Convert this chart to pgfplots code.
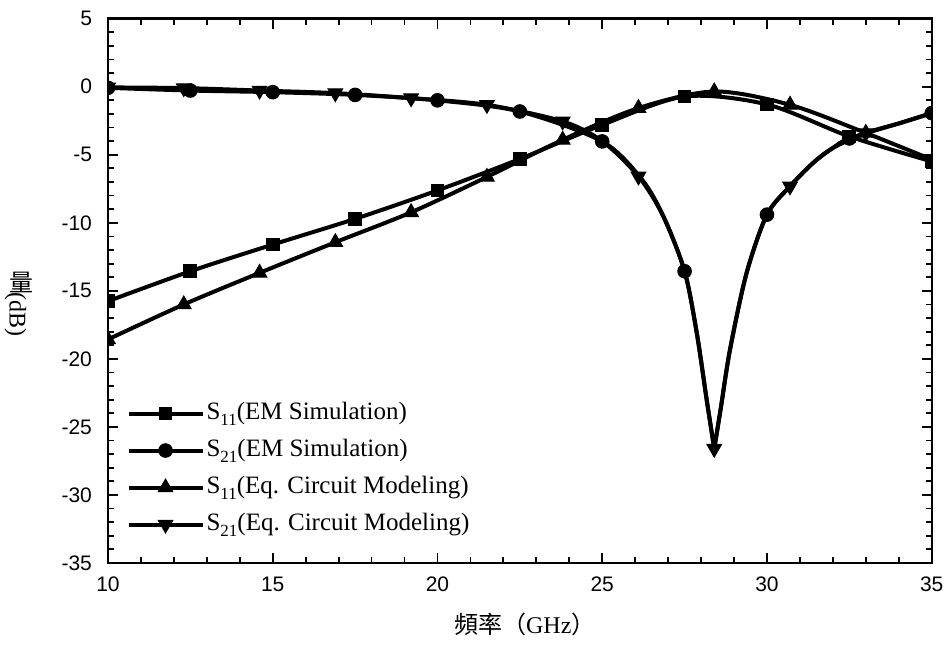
\documentclass[border=0pt]{standalone}
\usepackage{fontspec}
\setmainfont{Liberation Serif}
\newfontfamily\arial{Liberation Sans}
\newfontfamily\cjk{Noto Sans CJK TC}
\usepackage{pgfplots}
\usepackage{pgfplotstable}
\pgfplotsset{compat=1.18}
\newcommand{\sub}[1]{\raisebox{-0.55ex}{\fontsize{8.5}{9}\selectfont #1}}

% S11 EM simulation (squares)
\pgfplotstableread{
x y
10 -15.76
12.5 -13.56
15 -11.6
17.5 -9.71
20 -7.62
22.5 -5.31
25 -2.8
27.5 -0.72
30 -1.3
32.5 -3.65
35 -5.49
}\sAem

% S11 equivalent circuit (up triangles)
\pgfplotstableread{
x y
10 -18.57
12.3 -16.0
14.6 -13.68
16.9 -11.43
19.2 -9.23
21.5 -6.63
23.8 -3.9
26.1 -1.57
28.4 -0.35
30.7 -1.33
33.0 -3.4
35 -5.35
}\sAeq

% S21 EM simulation (circles); ym = marker rows
\pgfplotstableread{
x y ym
10 -0.08 -0.08
12.5 -0.28 -0.28
15 -0.4 -0.4
17.5 -0.6 -0.6
20 -1.0 -1.0
22.5 -1.82 -1.82
25 -4.02 -4.02
26.2 -6.8 nan
26.85 -9.5 nan
27.5 -13.56 -13.56
27.87 -18.1 nan
28.17 -23.0 nan
28.4 -26.6 nan
28.6 -23.6 nan
28.88 -19.3 nan
29.38 -13.7 nan
30 -9.4 -9.4
30.7 -7.32 nan
31.4 -5.6 nan
32.0 -4.5 nan
32.5 -3.8 -3.8
34.04 -2.67 nan
35 -1.94 -1.94
}\sBem

% S21 equivalent circuit (down triangles)
\pgfplotstableread{
x y ym
10 -0.05 -0.05
12.3 -0.1 -0.1
14.6 -0.28 -0.28
16.9 -0.47 -0.47
19.2 -0.84 -0.84
21.5 -1.33 -1.33
23.8 -2.55 -2.55
25 -4.0 nan
26.1 -6.59 -6.59
26.85 -9.5 nan
27.5 -13.56 nan
27.87 -18.1 nan
28.17 -23.0 nan
28.4 -26.6 -26.6
28.6 -23.6 nan
28.88 -19.3 nan
29.38 -13.7 nan
30 -9.4 nan
30.7 -7.32 -7.32
31.4 -5.6 nan
32.0 -4.5 nan
33.0 -3.4 -3.4
34.04 -2.67 nan
35 -1.94 nan
}\sBeq

\begin{document}
\begin{tikzpicture}
\useasboundingbox (-54pt,-42.5pt) rectangle (420pt,281.5pt);
\begin{axis}[
  at={(0pt,0pt)}, anchor=south west,
  scale only axis, width=411.85pt, height=272.15pt,
  xmin=10, xmax=35, ymin=-35, ymax=5,
  xtick={10,15,...,35}, ytick={-35,-30,...,5},
  minor x tick num=4, minor y tick num=4,
  tick align=inside, major tick length=5pt, minor tick length=3pt,
  axis line style={line width=1.2pt},
  every tick/.style={black, line width=0.9pt},
  tick label style={font=\arial\fontsize{10.5}{12}\selectfont},
  /pgf/number format/assume math mode=true,
  xticklabel style={yshift=-3.5pt},
  yticklabel style={xshift=-4.5pt},
  clip marker paths=true,
  unbounded coords=discard,
  xlabel={{\cjk 頻率（}GHz{\cjk ）}},
  xlabel style={font=\fontsize{12}{14}\selectfont, at={(axis description cs:0.506,0)}, anchor=base, yshift=-35pt},
  ylabel={\rotatebox{90}{\cjk 量}(dB)},
  ylabel style={font=\fontsize{12}{14}\selectfont, at={(axis description cs:-0.108,0.475)}, rotate=180, anchor=center},
  legend cell align=left,
  legend style={at={(rel axis cs:0.022,0.302)}, anchor=north west, draw=none, fill=none,
    inner sep=0pt, row sep=4pt, font=\fontsize{12.5}{14}\selectfont,
    nodes={inner sep=1pt, text height=9pt, text depth=3.5pt}},
  legend image code/.code={\draw[mark repeat=2,mark phase=2,#1] plot coordinates {(0pt,0pt) (18.5pt,0pt) (37pt,0pt)};},
]
\addlegendimage{black, line width=2pt, mark=square*, mark size=3.2pt, mark options={solid, line width=0.5pt, fill=black}}
\addlegendentry{S\sub{11}(EM Simulation)}
\addlegendimage{black, line width=2pt, mark=*, mark size=3.4pt, mark options={solid, line width=0.5pt, fill=black}}
\addlegendentry{S\sub{21}(EM Simulation)}
\addlegendimage{black, line width=2pt, mark=triangle*, mark size=4.2pt, mark options={solid, line width=0.5pt, fill=black}}
\addlegendentry{S\sub{11}(Eq. Circuit Modeling)}
\addlegendimage{black, line width=2pt, mark=triangle*, mark size=4.2pt, mark options={solid, line width=0.5pt, fill=black, rotate=180}}
\addlegendentry{S\sub{21}(Eq. Circuit Modeling)}

% lines
\addplot[black, line width=2pt, smooth, forget plot] table[x=x,y=y] {\sAem};
\addplot[black, line width=2pt, smooth, forget plot] table[x=x,y=y] {\sAeq};
\addplot[black, line width=2pt, smooth, forget plot, restrict x to domain=0:28.41] table[x=x,y=y] {\sBem};
\addplot[black, line width=2pt, smooth, forget plot, restrict x to domain=28.39:40] table[x=x,y=y] {\sBem};
\addplot[black, line width=2pt, smooth, forget plot, restrict x to domain=0:28.41] table[x=x,y=y] {\sBeq};
\addplot[black, line width=2pt, smooth, forget plot, restrict x to domain=28.39:40] table[x=x,y=y] {\sBeq};

% markers
\addplot[only marks, forget plot, mark=square*, mark size=3.2pt, mark options={solid, line width=0.5pt, fill=black}] table[x=x,y=y] {\sAem};
\addplot[only marks, forget plot, restrict x to domain=0:34, mark=triangle*, mark size=4.2pt, mark options={solid, line width=0.5pt, fill=black}] table[x=x,y=y] {\sAeq};
\addplot[only marks, forget plot, mark=*, mark size=3.4pt, mark options={solid, line width=0.5pt, fill=black}] table[x=x,y=ym] {\sBem};
\addplot[only marks, forget plot, mark=triangle*, mark size=4.2pt, mark options={solid, line width=0.5pt, fill=black, rotate=180}] table[x=x,y=ym] {\sBeq};
\end{axis}
\end{tikzpicture}
\end{document}
